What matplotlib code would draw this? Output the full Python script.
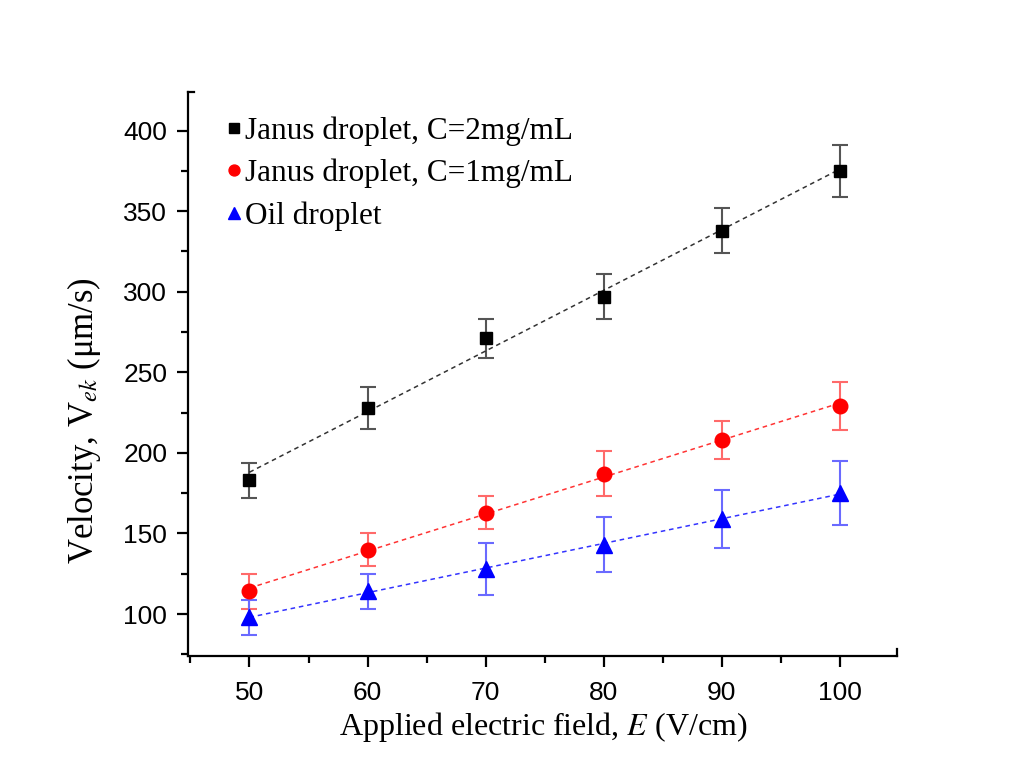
import matplotlib
matplotlib.use('Agg')
import matplotlib.pyplot as plt
import numpy as np
from matplotlib.ticker import MultipleLocator

field = [50, 60, 70, 80, 90, 100]

janus_2mg = [183, 228, 271, 297, 338, 375]
janus_2mg_err = [11, 13, 12, 14, 14, 16]

janus_1mg = [114, 140, 163, 187, 208, 229]
janus_1mg_err = [11, 10, 10.5, 14, 12, 15]

oil = [98, 114, 128, 143, 159, 175]
oil_err = [11, 11, 16, 17, 18, 20]

labels = ['Janus droplet, C=2mg/mL', 'Janus droplet, C=1mg/mL', 'Oil droplet']

plt.rcParams['mathtext.fontset'] = 'stix'
serif = 'Liberation Serif'
sans = 'Liberation Sans'

fig = plt.figure(figsize=(10.28, 7.79), dpi=100)
ax = fig.add_axes([0.183, 0.158, 0.690, 0.724])

series = [
    (janus_2mg, janus_2mg_err, 'black', '#555555', 's', 9),
    (janus_1mg, janus_1mg_err, 'red', '#ff6a6a', 'o', 10.5),
    (oil, oil_err, 'blue', '#6a6aff', '^', 11),
]

x = np.array(field)
handles = []
for (y, err, color, ecolor, marker, ms), label in zip(series, labels):
    ax.errorbar(x, y, yerr=err, fmt='none', ecolor=ecolor, elinewidth=1.5,
                capsize=6, capthick=1.5, zorder=2)
    slope, intercept = np.polyfit(x, y, 1)
    ax.plot(x, slope * x + intercept, linestyle=(0, (3, 2.5)), color=color,
            linewidth=1.1, alpha=0.8, zorder=3)
    h, = ax.plot(x, y, linestyle='none', marker=marker, markersize=ms,
                 color=color, markeredgecolor=color, zorder=4, label=label)
    handles.append(h)

ax.set_xlim(44.8, 104.9)
ax.set_ylim(74, 424)
ax.xaxis.set_major_locator(MultipleLocator(10))
ax.xaxis.set_minor_locator(MultipleLocator(5))
ax.yaxis.set_major_locator(MultipleLocator(50))
ax.yaxis.set_minor_locator(MultipleLocator(25))

for side in ['top', 'right']:
    ax.spines[side].set_visible(False)
for side in ['left', 'bottom']:
    ax.spines[side].set_linewidth(1.6)

ax.tick_params(which='major', direction='out', length=8, width=1.6,
               labelsize=19, pad=7)
ax.tick_params(axis='x', which='major', pad=10)
ax.tick_params(which='minor', direction='out', length=5, width=1.6)
for lab in ax.get_xticklabels() + ax.get_yticklabels():
    lab.set_fontfamily(sans)

# small end caps of the axis lines, Origin style
ax.plot([0, 0.008], [1, 1], transform=ax.transAxes, color='black',
        linewidth=1.6, clip_on=False)
ax.plot([1, 1], [0, 0.012], transform=ax.transAxes, color='black',
        linewidth=1.6, clip_on=False)

ax.set_xlabel('Applied electric field, $E$ (V/cm)', fontsize=23,
              fontfamily=serif, labelpad=4)
ax.set_ylabel('Velocity, V$_{ek}$ (\u03bcm/s)', fontsize=25,
              fontfamily=serif)
ax.yaxis.set_label_coords(-0.12, 0.418)

ax.legend(handles=handles, loc='upper left', frameon=False,
          prop={'family': serif, 'size': 22.5}, handlelength=0.5,
          handletextpad=0.1, labelspacing=0.42, markerscale=0.75,
          borderaxespad=0.2, bbox_to_anchor=(0.027, 0.99))

fig.savefig('out.png', dpi=100, facecolor='white')
